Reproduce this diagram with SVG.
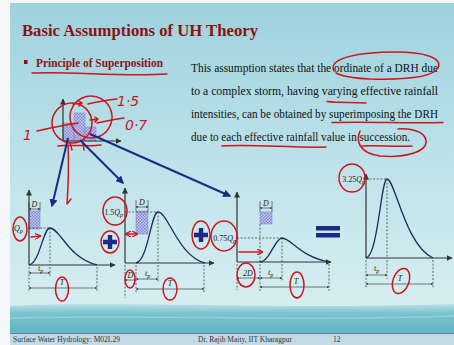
<svg xmlns="http://www.w3.org/2000/svg" width="454" height="345" viewBox="0 0 454 345">
<defs>
<linearGradient id="bg" x1="0" y1="0" x2="0" y2="1">
<stop offset="0" stop-color="#9dd2de"/>
<stop offset="0.55" stop-color="#c3e5eb"/>
<stop offset="1" stop-color="#dcf0f3"/>
</linearGradient>
<linearGradient id="band" x1="0" y1="0" x2="0" y2="1">
<stop offset="0" stop-color="#b9e0e7"/>
<stop offset="0.3" stop-color="#7cc4cf"/>
<stop offset="1" stop-color="#5fb3c3"/>
</linearGradient>
<pattern id="hatch" width="3" height="3" patternUnits="userSpaceOnUse">
<rect width="3" height="3" fill="#c5c9ef"/>
<rect width="1.5" height="1.5" fill="#8088d2"/>
<rect x="1.5" y="1.5" width="1.5" height="1.5" fill="#8088d2"/>
</pattern>
<marker id="ah" viewBox="0 0 6 6" refX="5.5" refY="3" markerWidth="5" markerHeight="5" orient="auto">
<path d="M0,0 L6,3 L0,6 z" fill="#333"/>
</marker>
<marker id="sm" viewBox="0 0 6 6" refX="5.5" refY="3" markerWidth="3.5" markerHeight="3.5" orient="auto-start-reverse">
<path d="M0,0 L6,3 L0,6 z" fill="#333"/>
</marker>
<marker id="bh" viewBox="0 0 6 6" refX="5" refY="3" markerWidth="4" markerHeight="4" orient="auto">
<path d="M0,0 L6,3 L0,6 z" fill="#1c2a86"/>
</marker>
<marker id="rh" viewBox="0 0 6 6" refX="5" refY="3" markerWidth="4" markerHeight="4" orient="auto-start-reverse">
<path d="M0,0 L6,3 L0,6" fill="none" stroke="#d0141e" stroke-width="1.2"/>
</marker>
</defs>
<style>
.title{font-family:"Liberation Serif",serif;font-weight:bold;fill:#8b1212}
.para{font-family:"Liberation Serif",serif;font-size:11.8px;fill:#111}
.lbl{font-family:"Liberation Serif",serif;font-size:8px;fill:#222}
.it{font-style:italic}
.foot{font-family:"Liberation Serif",serif;font-size:7.5px;fill:#2a3440}
.ax{stroke:#333;stroke-width:1.2;fill:none}
.dim{stroke:#444;stroke-width:0.7;fill:none}
.dash{stroke:#444;stroke-width:0.8;stroke-dasharray:2,1.6;fill:none}
.crv{stroke:#1f2c5c;stroke-width:1.3;fill:none}
.box{fill:url(#hatch);stroke:#7a84cc;stroke-width:0.5}
.red{stroke:#d0141e;stroke-width:1.5;fill:none;stroke-linecap:round;stroke-linejoin:round}
.hand{font-family:"DejaVu Sans",sans-serif;font-style:italic;fill:#d0141e}
.blue{stroke:#1c2a86;stroke-width:2;fill:none}
.plus{fill:#1c2a86}
</style>

<rect width="454" height="345" fill="#f4f6f7"/>
<rect x="10" y="3" width="444" height="342" fill="url(#bg)"/>
<path d="M10,306 C120,300 260,310 454,304 L454,334 L10,334 z" fill="url(#band)"/>
<path d="M10,318 C150,314 300,322 454,316" stroke="#9fd6de" stroke-width="1.5" fill="none" opacity="0.7"/>
<rect x="10" y="333" width="444" height="1.2" fill="#4f86a3"/>
<rect x="10" y="334.2" width="444" height="10.8" fill="#c2dbe3"/>

<g id="title">
<text class="title" x="22" y="36" font-size="17" textLength="236" lengthAdjust="spacingAndGlyphs">Basic Assumptions of UH Theory</text>
</g>
<g id="bullet">
<rect x="24" y="60" width="3.5" height="4" fill="#8b1212"/>
<text class="title" x="36" y="67" font-size="13" textLength="127" lengthAdjust="spacingAndGlyphs">Principle of Superposition</text>
<path class="red" d="M32,73 C70,71 120,77 167,74"/>
</g>
<g id="paragraph">
<text class="para" x="191" y="72" textLength="247" lengthAdjust="spacingAndGlyphs">This assumption states that the ordinate of a DRH due</text>
<text class="para" x="191" y="95" textLength="247" lengthAdjust="spacingAndGlyphs">to a complex storm, having varying effective rainfall</text>
<text class="para" x="191" y="118" textLength="247" lengthAdjust="spacingAndGlyphs">intensities, can be obtained by superimposing the DRH</text>
<text class="para" x="191" y="141" textLength="219" lengthAdjust="spacingAndGlyphs">due to each effective rainfall value in succession.</text>
<path class="red" d="M334,71 C327,58 360,52 395,52 C425,52 443,58 438,68 C433,77 405,80 370,79 C352,78 341,76 336,73"/>
<path class="red" d="M327,101.5 C340,103 352,102 366,103"/>
<path class="red" d="M332,122.5 C370,121.5 405,123.5 443,122.5"/>
<path class="red" d="M222,146 C255,144 290,148 326,147"/>
<path class="red" d="M362,146 C378,145 395,147 412,146"/>
<path class="red" d="M360,131 C356,140 358,153 380,156 C405,158 428,152 426,140 C424,131 410,128 398,129"/>
</g>

<g id="hyetograph">
<rect class="box" x="63" y="123" width="11" height="18"/>
<rect class="box" x="74" y="113" width="11" height="28"/>
<rect class="box" x="85" y="127" width="11" height="14"/>
<line class="ax" x1="63" y1="141" x2="63" y2="99" marker-end="url(#ah)"/>
<line class="ax" x1="63" y1="141" x2="121" y2="141" marker-end="url(#ah)"/>
<ellipse class="red" cx="72" cy="123" rx="20" ry="20"/>
<ellipse class="red" cx="91" cy="117" rx="21" ry="21" transform="rotate(-15 91 117)"/>
<path class="red" d="M37,131 C50,128 65,125 78,123"/>
<path class="red" d="M88,104 C97,102 108,100 117,99"/>
<path class="red" d="M97,123 C106,121 115,119 124,118"/>
<path class="red" d="M73,104 L82,103 M79,101 L82,103 L79,106"/>
<path class="red" d="M90,120 L98,119 M95,117 L98,119 L95,122"/>
<path class="red" d="M58,146 C72,144 88,147 101,145 M70,143 L72,150 M83,143 L84,150"/>
<path class="red" d="M68,145 C69,165 68,190 67,204 L71,199"/>
<text class="hand" x="23" y="140" font-size="14">1</text>
<text class="hand" x="117" y="106" font-size="14">1·5</text>
<text class="hand" x="125" y="130" font-size="14">0·7</text>
</g>

<g id="connectors">
<line class="blue" x1="68" y1="138" x2="52" y2="206" marker-end="url(#bh)"/>
<line class="blue" x1="80" y1="140" x2="123" y2="183" marker-end="url(#bh)"/>
<line class="blue" x1="90" y1="134" x2="230" y2="196" marker-end="url(#bh)"/>
</g>

<g id="drh1">
<rect class="box" x="29" y="211" width="11" height="18"/>
<line class="dim" x1="29" y1="202" x2="29" y2="211"/>
<line class="dim" x1="40" y1="202" x2="40" y2="211"/>
<line class="dim" x1="29" y1="209" x2="40" y2="209" marker-start="url(#sm)" marker-end="url(#sm)"/>
<text class="lbl it" x="34.5" y="207" text-anchor="middle">D</text>
<line class="dash" x1="29" y1="228" x2="50" y2="228"/>
<line class="dash" x1="50" y1="228" x2="50" y2="265"/>
<path class="crv" d="M29,265 C40,263 43,228 50,228 C60,228 68,258 97,265"/>
<line class="ax" x1="29" y1="265" x2="29" y2="190" marker-end="url(#ah)"/>
<line class="ax" x1="29" y1="265" x2="115" y2="265" marker-end="url(#ah)"/>
<text class="lbl it" x="14" y="231">Q<tspan font-size="6" dy="2">p</tspan></text>
<line class="dash" x1="29" y1="267" x2="29" y2="292"/>
<line class="dash" x1="50" y1="267" x2="50" y2="277"/>
<line class="dash" x1="97" y1="267" x2="97" y2="292"/>
<line class="dim" x1="29" y1="273" x2="50" y2="273" marker-start="url(#sm)" marker-end="url(#sm)"/>
<text class="lbl it" x="38" y="271">t<tspan font-size="6" dy="1.5">p</tspan></text>
<line class="dim" x1="29" y1="288" x2="97" y2="288" marker-start="url(#sm)" marker-end="url(#sm)"/>
<text class="lbl it" x="62" y="285" text-anchor="middle">T</text>
<ellipse class="red" cx="20" cy="229" rx="7" ry="12"/>
<path class="red" d="M31,237 L40,236" marker-end="url(#rh)"/>
<ellipse class="red" cx="62" cy="289" rx="6.5" ry="12"/>
</g>

<g id="plus1">
<ellipse class="red" cx="110" cy="242" rx="9" ry="11"/>
<path class="plus" d="M107.8,235 h4.4 v4.8 h4.8 v4.4 h-4.8 v4.8 h-4.4 v-4.8 h-4.8 v-4.4 h4.8 z"/>
</g>

<g id="drh2">
<rect class="box" x="136" y="211" width="12" height="23"/>
<line class="dim" x1="136" y1="200" x2="136" y2="211"/>
<line class="dim" x1="148" y1="200" x2="148" y2="211"/>
<line class="dim" x1="136" y1="207" x2="148" y2="207" marker-start="url(#sm)" marker-end="url(#sm)"/>
<text class="lbl it" x="142" y="205" text-anchor="middle">D</text>
<line class="dash" x1="125" y1="212" x2="158" y2="212"/>
<line class="dash" x1="158" y1="212" x2="158" y2="263"/>
<path class="crv" d="M136,263 C148,261 151,212 158,212 C168,212 178,256 205,263"/>
<line class="ax" x1="125" y1="263" x2="125" y2="188" marker-end="url(#ah)"/>
<line class="ax" x1="125" y1="263" x2="214" y2="263" marker-end="url(#ah)"/>
<text class="lbl" x="123" y="215" text-anchor="end">1.5<tspan class="it">Q</tspan><tspan class="it" font-size="6" dy="2">p</tspan></text>
<line class="dash" x1="125" y1="265" x2="125" y2="298"/>
<line class="dash" x1="136" y1="265" x2="136" y2="293"/>
<line class="dash" x1="158" y1="265" x2="158" y2="283"/>
<line class="dash" x1="204" y1="265" x2="204" y2="293"/>
<line class="dim" x1="125" y1="280" x2="136" y2="280" marker-start="url(#sm)" marker-end="url(#sm)"/>
<text class="lbl it" x="130.5" y="278" text-anchor="middle">D</text>
<line class="dim" x1="136" y1="279" x2="158" y2="279" marker-start="url(#sm)" marker-end="url(#sm)"/>
<text class="lbl it" x="145" y="276">t<tspan font-size="6" dy="1.5">p</tspan></text>
<line class="dim" x1="136" y1="289" x2="204" y2="289" marker-start="url(#sm)" marker-end="url(#sm)"/>
<text class="lbl it" x="170" y="286" text-anchor="middle">T</text>
<ellipse class="red" cx="115" cy="211" rx="12" ry="14"/>
<path class="red" d="M126,234 L137,234" marker-start="url(#rh)" marker-end="url(#rh)"/>
<ellipse class="red" cx="130" cy="279" rx="5" ry="9"/>
<ellipse class="red" cx="170" cy="289" rx="7" ry="11"/>
</g>

<g id="plus2">
<ellipse class="red" cx="201" cy="235" rx="9" ry="14"/>
<path class="plus" d="M198.8,228 h4.4 v4.8 h4.8 v4.4 h-4.8 v4.8 h-4.4 v-4.8 h-4.8 v-4.4 h4.8 z"/>
</g>

<g id="drh3">
<rect class="box" x="260" y="212" width="12" height="12"/>
<line class="dim" x1="260" y1="201" x2="260" y2="212"/>
<line class="dim" x1="272" y1="201" x2="272" y2="212"/>
<line class="dim" x1="260" y1="208" x2="272" y2="208" marker-start="url(#sm)" marker-end="url(#sm)"/>
<text class="lbl it" x="266" y="206" text-anchor="middle">D</text>
<line class="dash" x1="260" y1="224" x2="260" y2="262"/>
<line class="dash" x1="237" y1="238" x2="282" y2="238"/>
<line class="dash" x1="282" y1="238" x2="282" y2="262"/>
<path class="crv" d="M260,262 C270,261 275,238 282,238 C291,238 300,257 330,262"/>
<line class="ax" x1="237" y1="262" x2="237" y2="192" marker-end="url(#ah)"/>
<line class="ax" x1="237" y1="262" x2="331" y2="262" marker-end="url(#ah)"/>
<text class="lbl" x="236" y="241" text-anchor="end">0.75<tspan class="it">Q</tspan><tspan class="it" font-size="6" dy="2">p</tspan></text>
<line class="dash" x1="237" y1="264" x2="237" y2="290"/>
<line class="dash" x1="260" y1="264" x2="260" y2="291"/>
<line class="dash" x1="282" y1="264" x2="282" y2="281"/>
<line class="dash" x1="329" y1="264" x2="329" y2="291"/>
<line class="dim" x1="237" y1="278" x2="260" y2="278" marker-start="url(#sm)" marker-end="url(#sm)"/>
<text class="lbl it" x="248" y="276" text-anchor="middle">2D</text>
<line class="dim" x1="260" y1="278" x2="282" y2="278" marker-start="url(#sm)" marker-end="url(#sm)"/>
<text class="lbl it" x="268" y="275">t<tspan font-size="6" dy="1.5">p</tspan></text>
<line class="dim" x1="260" y1="287" x2="329" y2="287" marker-start="url(#sm)" marker-end="url(#sm)"/>
<text class="lbl it" x="296" y="284" text-anchor="middle">T</text>
<ellipse class="red" cx="224" cy="236" rx="13" ry="15"/>
<path class="red" d="M239,252 L262,252" marker-end="url(#rh)"/>
<ellipse class="red" cx="246" cy="275" rx="9" ry="12"/>
<ellipse class="red" cx="297" cy="285" rx="7" ry="13"/>
</g>

<g id="equals">
<rect x="316" y="226" width="24" height="4.5" fill="#1c2a86"/>
<rect x="316" y="233" width="24" height="4.5" fill="#1c2a86"/>
</g>

<g id="drh4">
<line class="dash" x1="366" y1="179" x2="387" y2="179"/>
<line class="dash" x1="387" y1="179" x2="387" y2="258"/>
<path class="crv" d="M366,258 C378,256 381,179 387,179 C395,179 405,245 433,258"/>
<line class="ax" x1="366" y1="258" x2="366" y2="174" marker-end="url(#ah)"/>
<line class="ax" x1="366" y1="258" x2="452" y2="258" marker-end="url(#ah)"/>
<text class="lbl" x="365" y="182" text-anchor="end">3.25<tspan class="it">Q</tspan><tspan class="it" font-size="6" dy="2">p</tspan></text>
<line class="dash" x1="366" y1="260" x2="366" y2="288"/>
<line class="dash" x1="387" y1="260" x2="387" y2="279"/>
<line class="dash" x1="433" y1="260" x2="433" y2="288"/>
<line class="dim" x1="366" y1="275" x2="387" y2="275" marker-start="url(#sm)" marker-end="url(#sm)"/>
<text class="lbl it" x="374" y="271">t<tspan font-size="6" dy="1.5">p</tspan></text>
<line class="dim" x1="366" y1="284" x2="433" y2="284" marker-start="url(#sm)" marker-end="url(#sm)"/>
<text class="lbl it" x="400" y="281" text-anchor="middle">T</text>
<ellipse class="red" cx="352" cy="178" rx="13" ry="14"/>
<ellipse class="red" cx="401" cy="281" rx="8" ry="13" transform="rotate(20 401 281)"/>
</g>

<g id="footer">
<text class="foot" x="13" y="342">Surface Water Hydrology: M02L29</text>
<text class="foot" x="198" y="342">Dr. Rajib Maity, IIT Kharagpur</text>
<text class="foot" x="333" y="342">12</text>
</g>
</svg>
